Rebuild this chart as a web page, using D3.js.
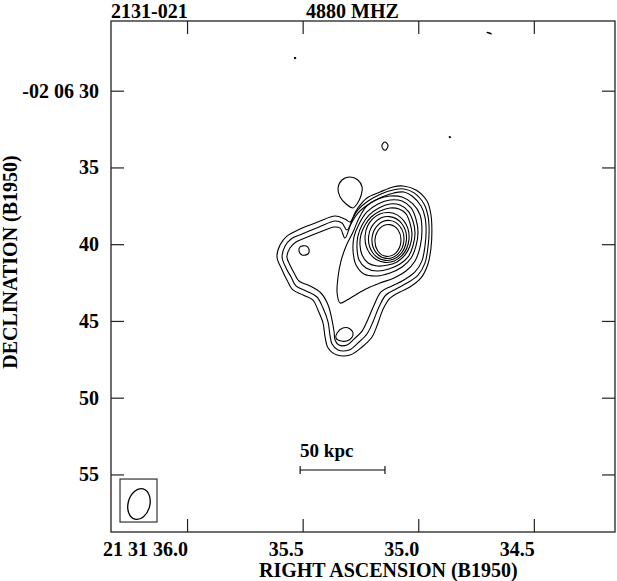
<!DOCTYPE html>
<html>
<head>
<meta charset="utf-8">
<script src="https://cdn.jsdelivr.net/npm/d3@7"></script>
<style>
  html, body { margin: 0; padding: 0; background: #fff; }
  svg { display: block; }
  text { font-family: "Liberation Serif", "Times New Roman", serif; font-weight: bold; fill: #000; }
</style>
</head>
<body>
<svg id="chart" width="617" height="581"></svg>
<script>
// ---------- data ----------
const sourceName = "2131-021";
const frequencyLabel = "4880 MHZ";
const xAxisTitle = "RIGHT ASCENSION (B1950)";
const yAxisTitle = "DECLINATION (B1950)";

// RA in seconds of time (21h31m), Dec in arcsec (-02d06m)
const raDomain = [36.329, 34.149];
const decDomain = [25.46, 58.75];
const raTicks = [36.0, 35.5, 35.0, 34.5];
const raTickLabels = ["21 31 36.0", "35.5", "35.0", "34.5"];
const decTicks = [30, 35, 40, 45, 50, 55];
const decTickLabels = ["-02 06 30", "35", "40", "45", "50", "55"];

const contourL1 = [
  [35.611,40.83],[35.598,40.05],[35.568,39.47],[35.511,39.01],[35.434,38.55],[35.360,38.16],
  [35.317,38.36],[35.295,38.55],[35.274,37.97],[35.261,37.64],[35.222,36.99],[35.165,36.60],
  [35.109,36.27],[35.066,36.21],[35.010,36.47],[34.962,37.19],[34.945,38.10],[34.941,39.14],
  [34.945,40.25],[34.958,41.29],[34.988,42.20],[35.036,42.79],[35.079,43.11],[35.122,43.51],
  [35.152,44.22],[35.174,45.13],[35.200,46.05],[35.243,46.70],[35.295,47.22],[35.351,47.22],
  [35.390,46.76],[35.403,46.05],[35.412,45.13],[35.434,44.29],[35.455,43.64],[35.498,43.31],
  [35.542,42.98],[35.568,42.33],[35.589,41.68]
];
const contourL2 = [
  [35.589,40.83],[35.576,40.12],[35.550,39.66],[35.503,39.34],[35.429,38.88],[35.360,38.49],
  [35.330,38.62],[35.308,39.08],[35.282,38.29],[35.261,37.77],[35.217,37.19],[35.161,36.73],
  [35.109,36.47],[35.062,36.40],[35.018,36.66],[34.975,37.38],[34.958,38.16],[34.953,39.14],
  [34.958,40.18],[34.971,41.23],[35.001,42.01],[35.049,42.53],[35.096,42.92],[35.140,43.31],
  [35.170,44.09],[35.196,45.07],[35.222,45.85],[35.261,46.44],[35.299,46.89],[35.347,46.89],
  [35.373,46.50],[35.382,45.92],[35.390,45.07],[35.412,44.16],[35.438,43.44],[35.485,43.05],
  [35.529,42.72],[35.550,42.14],[35.572,41.55]
];
const contourL3 = [
  [35.568,40.83],[35.555,40.25],[35.529,39.86],[35.490,39.60],[35.425,39.21],[35.364,38.88],
  [35.338,38.95],[35.317,39.60],[35.291,38.68],[35.261,37.97],[35.213,37.38],[35.157,36.93],
  [35.105,36.66],[35.062,36.60],[35.027,36.86],[34.988,37.51],[34.971,38.23],[34.966,39.14],
  [34.971,40.12],[34.984,41.09],[35.014,41.81],[35.062,42.33],[35.114,42.72],[35.161,43.11],
  [35.191,43.96],[35.217,44.87],[35.243,45.66],[35.278,46.18],[35.308,46.57],[35.343,46.57],
  [35.360,46.24],[35.364,45.72],[35.373,44.94],[35.390,43.96],[35.421,43.18],[35.468,42.72],
  [35.516,42.40],[35.537,41.88],[35.555,41.36]
];
const contourL4 = [
  [35.282,39.21],[35.312,40.12],[35.334,41.09],[35.347,42.14],[35.351,43.18],[35.338,43.83],
  [35.308,43.64],[35.265,43.24],[35.217,42.85],[35.165,42.53],[35.105,42.20],[35.053,41.75],
  [35.014,41.09],[34.992,40.18],[34.984,39.14],[34.992,38.10],[35.023,37.38],[35.070,36.93],
  [35.122,36.86],[35.174,37.06],[35.222,37.51],[35.256,38.29]
];
const coreRing6 = [
  [35.122,37.12],[35.070,37.19],[35.031,37.64],[35.010,38.36],[35.001,39.21],[35.010,40.12],
  [35.031,40.90],[35.070,41.49],[35.122,41.88],[35.178,42.07],[35.235,41.94],[35.269,41.36],
  [35.282,40.44],[35.278,39.53],[35.256,38.68],[35.222,37.90],[35.174,37.38]
];
const coreRing5 = [
  [35.122,37.38],[35.079,37.45],[35.044,37.84],[35.023,38.49],[35.014,39.27],[35.023,40.12],
  [35.044,40.83],[35.079,41.29],[35.127,41.62],[35.178,41.75],[35.226,41.55],[35.256,41.03],
  [35.265,40.25],[35.261,39.47],[35.243,38.75],[35.213,38.10],[35.170,37.64]
];
const coreRing4 = [
  [35.122,37.64],[35.083,37.71],[35.053,38.03],[35.036,38.62],[35.027,39.34],[35.036,40.12],
  [35.057,40.70],[35.092,41.16],[35.131,41.36],[35.178,41.42],[35.217,41.23],[35.243,40.70],
  [35.252,40.05],[35.248,39.40],[35.230,38.75],[35.204,38.23],[35.165,37.84]
];
const westBlob = [[35.511,40.18],[35.485,40.12],[35.473,40.31],[35.477,40.64],[35.503,40.70],[35.516,40.44]];
const southBlob = [[35.351,45.79],[35.326,45.46],[35.295,45.52],[35.282,45.85],[35.299,46.24],[35.334,46.31],[35.356,46.11]];
const northLoop = [[35.282,37.64],[35.312,37.38],[35.338,36.93],[35.347,36.34],[35.330,35.82],[35.295,35.62],
  [35.261,35.82],[35.243,36.27],[35.248,36.86],[35.265,37.38]];
const smallIsland = [[35.157,33.54],[35.144,33.34],[35.131,33.54],[35.140,33.86],[35.152,33.80]];
const specks = [
  [[35.535,27.84],[35.530,27.87],[35.533,27.92]],
  [[34.866,33.00],[34.860,33.02],[34.863,33.06]],
  [[34.703,26.20],[34.684,26.31],[34.690,26.24]]
];

// innermost core contours (ellipses): centre RA, centre Dec, half-width (s), half-height (arcsec)
const coreRA  = [35.131, 35.131, 35.133, 35.135];
const coreDec = [39.76, 39.69, 39.63, 39.56];
const coreHalfRA  = [0.0562, 0.0692, 0.0822, 0.0952];
const coreHalfDec = [1.04, 1.24, 1.43, 1.63];
const coreTilt = 5;

// restoring beam
const beamCenter = [36.208, 56.93];
const beamHalfAxes = [0.047, 1.02];
const beamTilt = 15;
const beamBox = [[36.290, 55.30], [36.130, 58.10]];

// linear scale bar
const scaleBarRA = [35.511, 35.144];
const scaleBarDec = 54.71;
const scaleBarLabel = "50 kpc";

// ---------- drawing ----------
const plot = { left: 111, right: 615, top: 21, bottom: 532 };
const svg = d3.select("#chart");

const x = d3.scaleLinear().domain(raDomain).range([plot.left, plot.right]);
const y = d3.scaleLinear().domain(decDomain).range([plot.top, plot.bottom]);

const FS = 20;
const tickLen = 13;

// frame
svg.append("rect")
  .attr("x", plot.left).attr("y", plot.top)
  .attr("width", plot.right - plot.left).attr("height", plot.bottom - plot.top)
  .attr("fill", "none").attr("stroke", "#222").attr("stroke-width", 1.3);

// axes (inward ticks on all sides)
const axB = d3.axisBottom(x).tickValues(raTicks).tickSize(tickLen).tickFormat("");
const axT = d3.axisTop(x).tickValues(raTicks).tickSize(tickLen).tickFormat("");
const axL = d3.axisLeft(y).tickValues(decTicks).tickSize(tickLen).tickFormat("");
const axR = d3.axisRight(y).tickValues(decTicks).tickSize(tickLen).tickFormat("");
function styleAxis(g) {
  g.select(".domain").remove();
  g.selectAll("line").attr("stroke", "#222").attr("stroke-width", 1.2);
}
svg.append("g").attr("transform", `translate(0,${plot.bottom - tickLen})`).call(axB).call(styleAxis);
svg.append("g").attr("transform", `translate(0,${plot.top + tickLen})`).call(axT).call(styleAxis);
svg.append("g").attr("transform", `translate(${plot.left + tickLen},0)`).call(axL).call(styleAxis);
svg.append("g").attr("transform", `translate(${plot.right - tickLen},0)`).call(axR).call(styleAxis);

// x tick labels: right end at the tick
raTicks.forEach((v, i) => {
  svg.append("text").attr("x", x(v) + 1).attr("y", 556)
    .attr("text-anchor", "end").attr("font-size", FS).text(raTickLabels[i]);
});
// y tick labels
decTicks.forEach((v, i) => {
  svg.append("text").attr("x", 99).attr("y", y(v) + 7)
    .attr("text-anchor", "end").attr("font-size", FS).text(decTickLabels[i]);
});

// titles
svg.append("text").attr("x", 111).attr("y", 18).attr("font-size", FS).text(sourceName);
svg.append("text").attr("x", 306).attr("y", 18).attr("font-size", FS).text(frequencyLabel);
svg.append("text").attr("x", 259).attr("y", 577)
  .attr("text-anchor", "start").attr("font-size", FS).text(xAxisTitle);
svg.append("text").attr("transform", `translate(17,262) rotate(-90)`)
  .attr("text-anchor", "middle").attr("font-size", FS).text(yAxisTitle);

// contours
const g = svg.append("g").attr("fill", "none").attr("stroke", "#000").attr("stroke-width", 1.1);
const closed = d3.line().x(d => x(d[0])).y(d => y(d[1])).curve(d3.curveCatmullRomClosed.alpha(0.5));
[contourL1, contourL2, contourL3, contourL4, coreRing6, coreRing5, coreRing4,
 westBlob, southBlob, northLoop, smallIsland]
  .forEach(c => g.append("path").attr("d", closed(c)));
specks.forEach(c => g.append("path").attr("d", closed(c)).attr("stroke-width", 1.2));

coreRA.forEach((ra, i) => {
  const cx = x(ra), cy = y(coreDec[i]);
  g.append("ellipse").attr("cx", cx).attr("cy", cy)
    .attr("rx", Math.abs(x(ra + coreHalfRA[i]) - cx))
    .attr("ry", Math.abs(y(coreDec[i] + coreHalfDec[i]) - cy))
    .attr("transform", `rotate(${coreTilt},${cx},${cy})`);
});

// beam box and beam
svg.append("rect")
  .attr("x", x(beamBox[0][0])).attr("y", y(beamBox[0][1]))
  .attr("width", x(beamBox[1][0]) - x(beamBox[0][0]))
  .attr("height", y(beamBox[1][1]) - y(beamBox[0][1]))
  .attr("fill", "none").attr("stroke", "#333").attr("stroke-width", 1.2);
{
  const cx = x(beamCenter[0]), cy = y(beamCenter[1]);
  svg.append("ellipse").attr("cx", cx).attr("cy", cy)
    .attr("rx", Math.abs(x(beamCenter[0] + beamHalfAxes[0]) - cx))
    .attr("ry", Math.abs(y(beamCenter[1] + beamHalfAxes[1]) - cy))
    .attr("transform", `rotate(${beamTilt},${cx},${cy})`)
    .attr("fill", "none").attr("stroke", "#000").attr("stroke-width", 1.3);
}

// scale bar
{
  const x0 = x(scaleBarRA[0]), x1 = x(scaleBarRA[1]), yy = y(scaleBarDec);
  const sb = svg.append("g").attr("stroke", "#000").attr("stroke-width", 1.1);
  sb.append("line").attr("x1", x0).attr("x2", x1).attr("y1", yy).attr("y2", yy);
  sb.append("line").attr("x1", x0).attr("x2", x0).attr("y1", yy - 4).attr("y2", yy + 4);
  sb.append("line").attr("x1", x1).attr("x2", x1).attr("y1", yy - 4).attr("y2", yy + 4);
  svg.append("text").attr("x", x0).attr("y", yy - 13).attr("font-size", FS - 1).text(scaleBarLabel);
}
</script>
</body>
</html>
